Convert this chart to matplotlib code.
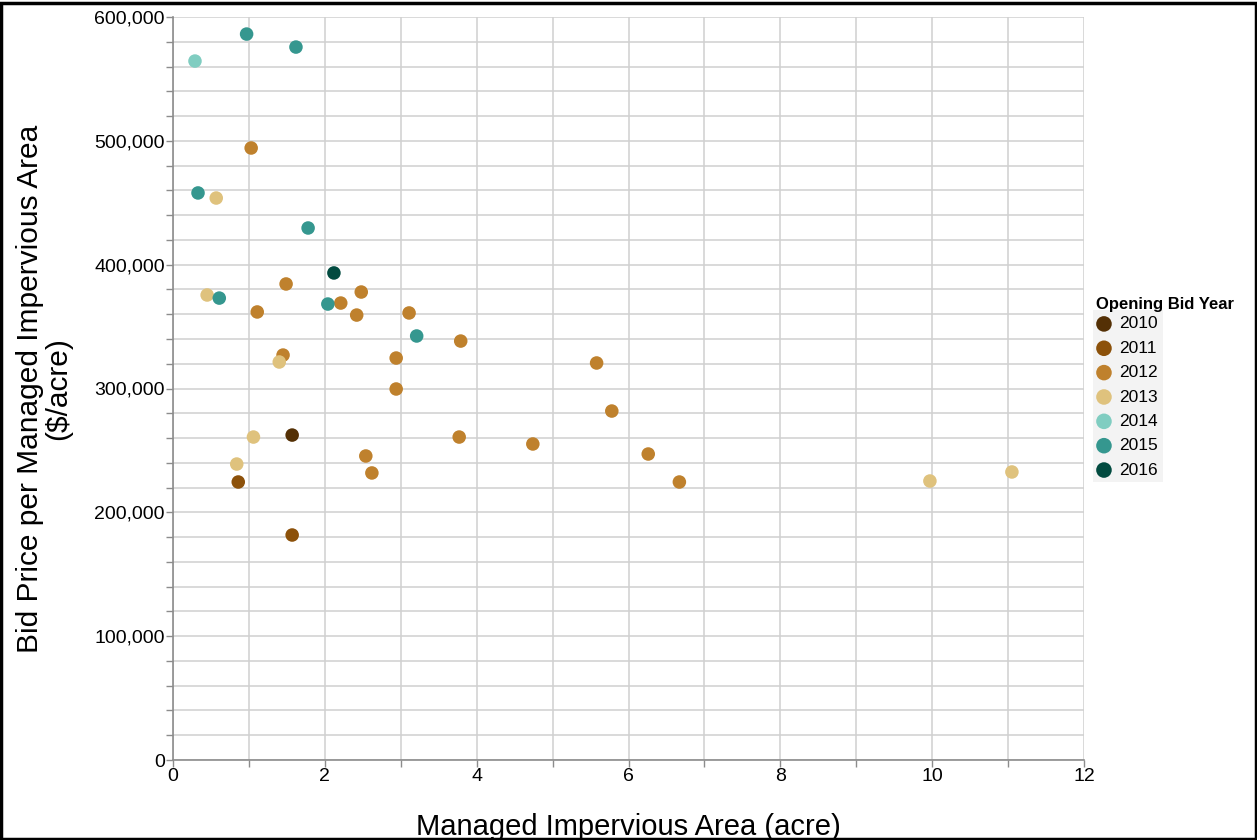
import matplotlib.pyplot as plt
import numpy as np
from matplotlib.patches import Rectangle
from matplotlib.ticker import MultipleLocator, FuncFormatter

plt.rcParams['font.family'] = ['Liberation Sans', 'DejaVu Sans']

# data
years = ['2010', '2011', '2012', '2013', '2014', '2015', '2016']
colors = ['#543005', '#8c510a', '#bf812d', '#dfc27d', '#80cdc1', '#35978f', '#024b40']

area_2010 = [1.57]
price_2010 = [262400]

area_2011 = [0.86, 1.57]
price_2011 = [224500, 181700]

area_2012 = [1.03, 1.49, 1.11, 1.45, 2.21, 2.48, 2.42, 3.11, 2.94, 2.94,
             2.54, 2.62, 3.79, 3.77, 4.74, 5.58, 5.78, 6.26, 6.67]
price_2012 = [494200, 384400, 361800, 327000, 369000, 377900, 359300, 361000, 324600, 299600,
              245500, 231800, 338300, 260800, 255200, 320600, 281800, 247100, 224500]

area_2013 = [0.57, 0.45, 1.40, 1.06, 0.84, 9.97, 11.05]
price_2013 = [453800, 375500, 321400, 260800, 239000, 225300, 232600]

area_2014 = [0.29]
price_2014 = [564400]

area_2015 = [0.97, 1.62, 0.33, 0.61, 1.78, 2.04, 3.21]
price_2015 = [586200, 575700, 457900, 373000, 429600, 368200, 342400]

area_2016 = [2.12]
price_2016 = [393300]

areas = [area_2010, area_2011, area_2012, area_2013, area_2014, area_2015, area_2016]
prices = [price_2010, price_2011, price_2012, price_2013, price_2014, price_2015, price_2016]

fig = plt.figure(figsize=(12.57, 8.4), dpi=100)
ax = fig.add_axes([0.1376, 0.0952, 0.7248, 0.8846])

for year, col, xs, ys in zip(years, colors, areas, prices):
    ax.scatter(xs, ys, s=95, color=col, label=year, edgecolors='none', zorder=3, clip_on=False)

ax.set_xlim(0, 12)
ax.set_ylim(0, 600000)
ax.xaxis.set_major_locator(MultipleLocator(2))
ax.xaxis.set_minor_locator(MultipleLocator(1))
ax.yaxis.set_major_locator(MultipleLocator(100000))
ax.yaxis.set_minor_locator(MultipleLocator(20000))
ax.yaxis.set_major_formatter(FuncFormatter(lambda v, p: f'{int(v):,}'))
ax.grid(True, which='both', color='#d0d0d0', linewidth=1.1, zorder=0)
ax.set_axisbelow(True)

for s in ['top', 'right']:
    ax.spines[s].set_visible(False)
for s in ['left', 'bottom']:
    ax.spines[s].set_color('#8c8c8c')
    ax.spines[s].set_linewidth(1.2)

ax.tick_params(which='both', direction='out', color='#8c8c8c', length=5, width=1,
               labelsize=14, pad=1)

ax.set_xlabel('Managed Impervious Area (acre)', fontsize=21, labelpad=20)
ax.set_ylabel('Bid Price per Managed Impervious Area\n($/acre)', fontsize=21.5, labelpad=16,
              linespacing=1.0)

# light background behind legend entries
fig.patches.append(Rectangle((1093 / 1257, 1 - 482 / 840), 70 / 1257, 172 / 840,
                             transform=fig.transFigure, facecolor='#f3f3f3',
                             edgecolor='none', zorder=0))

leg = fig.legend(loc='upper left', bbox_to_anchor=(1084 / 1257, 1 - 285 / 840),
                 title='Opening Bid Year', fontsize=12.5, title_fontsize=12,
                 frameon=False, markerscale=1.15, handlelength=0.9, handletextpad=0.4,
                 labelspacing=0.53, borderpad=0.2, alignment='left')
leg.get_title().set_fontweight('bold')
leg._legend_box.sep = 3

# black frame around the whole figure
fig.patches.append(Rectangle((0.001, 0.001), 0.998, 0.996, transform=fig.transFigure,
                             fill=False, edgecolor='black', linewidth=2.5))

fig.savefig('out.png', dpi=100)
